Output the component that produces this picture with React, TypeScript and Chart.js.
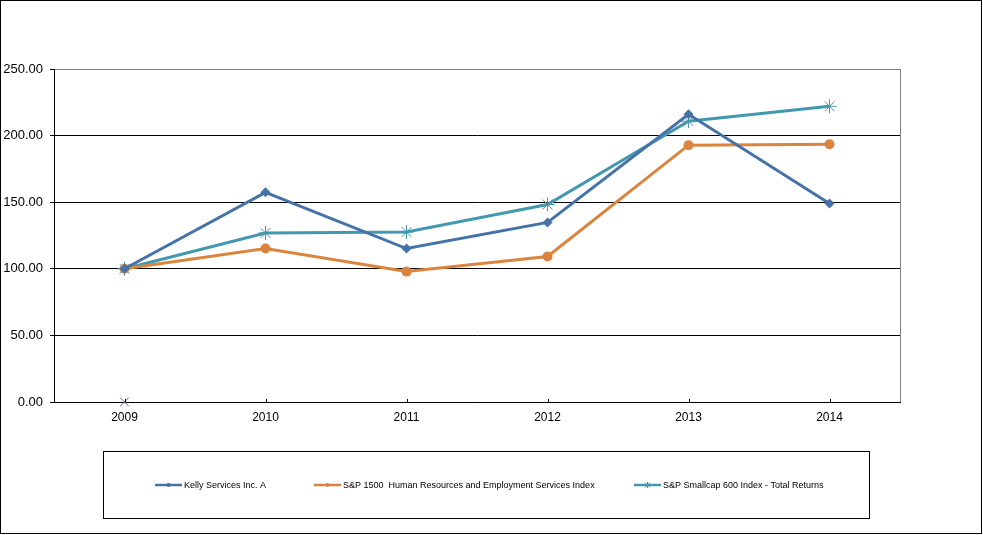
import { useEffect, useRef } from "react";
import { Chart, registerables } from "chart.js";
import type { Plugin } from "chart.js";

Chart.register(...registerables);

const years = ["2009", "2010", "2011", "2012", "2013", "2014"];
const kellyServices = [100, 157.4, 115.2, 134.8, 216.0, 149.0];
const spHumanResources = [100, 115.2, 97.9, 109.2, 192.8, 193.5];
const spSmallcap = [100, 126.9, 127.6, 148.3, 210.8, 222.0];
const strayMarker = [0, null, null, null, null, null];
const yTicks = [0, 50, 100, 150, 200, 250];

const seriesNames = [
  "Kelly Services Inc. A",
  "S&P 1500  Human Resources and Employment Services Index",
  "S&P Smallcap 600 Index - Total Returns"
];

const FONT = "'Liberation Sans', Arial, sans-serif";

// plot frame, inner x ticks and the boxed legend under the chart
const framePlugin: Plugin<"line"> = {
  id: "frame",
  afterDraw(chart) {
    const { ctx, chartArea } = chart;
    const x = chart.scales.x;
    ctx.save();
    ctx.strokeStyle = "#808080";
    ctx.lineWidth = 1;
    ctx.beginPath();
    ctx.moveTo(chartArea.right + 0.5, chartArea.top);
    ctx.lineTo(chartArea.right + 0.5, chartArea.bottom);
    ctx.stroke();

    ctx.strokeStyle = "#000";
    ctx.beginPath();
    years.forEach((_, i) => {
      const px = Math.round(x.getPixelForValue(i)) + 0.5;
      ctx.moveTo(px, chartArea.bottom);
      ctx.lineTo(px, chartArea.bottom - 3);
    });
    ctx.stroke();

    // legend box
    ctx.strokeStyle = "#000";
    ctx.strokeRect(102.5, 450.5, 766, 67);
    const itemX = [154, 313, 633];
    const cy = 484;
    chart.data.datasets.slice(0, 3).forEach((ds, i) => {
      const color = ds.borderColor as string;
      const lx = itemX[i];
      ctx.strokeStyle = color;
      ctx.lineWidth = 2.5;
      ctx.beginPath();
      ctx.moveTo(lx, cy);
      ctx.lineTo(lx + 27, cy);
      ctx.stroke();
      ctx.fillStyle = color;
      ctx.lineWidth = 1;
      const mx = lx + 13.5;
      ctx.beginPath();
      if (i === 2) {
        ctx.moveTo(mx - 2.5, cy - 2.5);
        ctx.lineTo(mx + 2.5, cy + 2.5);
        ctx.moveTo(mx + 2.5, cy - 2.5);
        ctx.lineTo(mx - 2.5, cy + 2.5);
        ctx.moveTo(mx, cy - 3);
        ctx.lineTo(mx, cy + 3);
        ctx.stroke();
      } else {
        ctx.arc(mx, cy, 2, 0, Math.PI * 2);
        ctx.fill();
      }
      ctx.fillStyle = "#000";
      ctx.font = `9px ${FONT}`;
      ctx.textBaseline = "middle";
      ctx.textAlign = "left";
      ctx.fillText(seriesNames[i], lx + 29, cy + 0.5);
    });
    ctx.restore();
  }
};

function ReturnsChart() {
  const canvasRef = useRef<HTMLCanvasElement | null>(null);

  useEffect(() => {
    const canvas = canvasRef.current;
    if (!canvas) return;

    const chart = new Chart(canvas, {
      type: "line",
      data: {
        labels: years,
        datasets: [
          {
            label: seriesNames[0],
            data: kellyServices,
            borderColor: "#4572A7",
            backgroundColor: "#4572A7",
            borderWidth: 3,
            pointStyle: "rectRot",
            pointRadius: 5,
            pointBorderWidth: 0,
            tension: 0
          },
          {
            label: seriesNames[1],
            data: spHumanResources,
            borderColor: "#DB843D",
            backgroundColor: "#DB843D",
            borderWidth: 3,
            pointStyle: "circle",
            pointRadius: 5,
            pointBorderWidth: 0,
            tension: 0
          },
          {
            label: seriesNames[2],
            data: spSmallcap,
            borderColor: "#4198AF",
            backgroundColor: "#4198AF",
            borderWidth: 3,
            pointStyle: "star",
            pointRadius: 7,
            pointBorderWidth: 1,
            tension: 0
          },
          {
            label: "",
            data: strayMarker,
            borderColor: "#71588F",
            backgroundColor: "#71588F",
            showLine: false,
            clip: false,
            pointStyle: "crossRot",
            pointRadius: 6,
            pointBorderWidth: 1
          }
        ]
      },
      options: {
        responsive: false,
        animation: false,
        layout: {
          padding: { left: 0, right: 81, top: 68, bottom: 0 }
        },
        plugins: {
          legend: { display: false },
          tooltip: { enabled: false }
        },
        scales: {
          x: {
            offset: true,
            afterFit: (scale) => {
              scale.height = 131;
            },
            grid: { display: false },
            border: { display: true, color: "#000", width: 1 },
            ticks: {
              color: "#000",
              padding: 0,
              font: { family: FONT, size: 12 }
            }
          },
          y: {
            min: 0,
            max: 250,
            afterFit: (scale) => {
              scale.width = 53;
            },
            afterBuildTicks: (scale) => {
              scale.ticks = yTicks.map((value) => ({ value }));
            },
            border: { display: true, color: "#000", width: 1 },
            grid: {
              color: (c) => (c.tick && c.tick.value === 250 ? "#808080" : "#000"),
              tickColor: "#000",
              tickLength: 4,
              lineWidth: 1
            },
            ticks: {
              color: "#000",
              padding: 7,
              font: { family: FONT, size: 13 },
              callback: (value) => Number(value).toFixed(2)
            }
          }
        }
      },
      plugins: [framePlugin]
    });

    return () => chart.destroy();
  }, []);

  return <canvas ref={canvasRef} width={980} height={532} style={{ display: "block" }} />;
}

export default function App() {
  useEffect(() => {
    document.body.style.margin = "0";
  }, []);
  return (
    <div
      style={{
        width: 982,
        height: 534,
        border: "1px solid #000",
        boxSizing: "border-box",
        background: "#fff"
      }}
    >
      <ReturnsChart />
    </div>
  );
}
